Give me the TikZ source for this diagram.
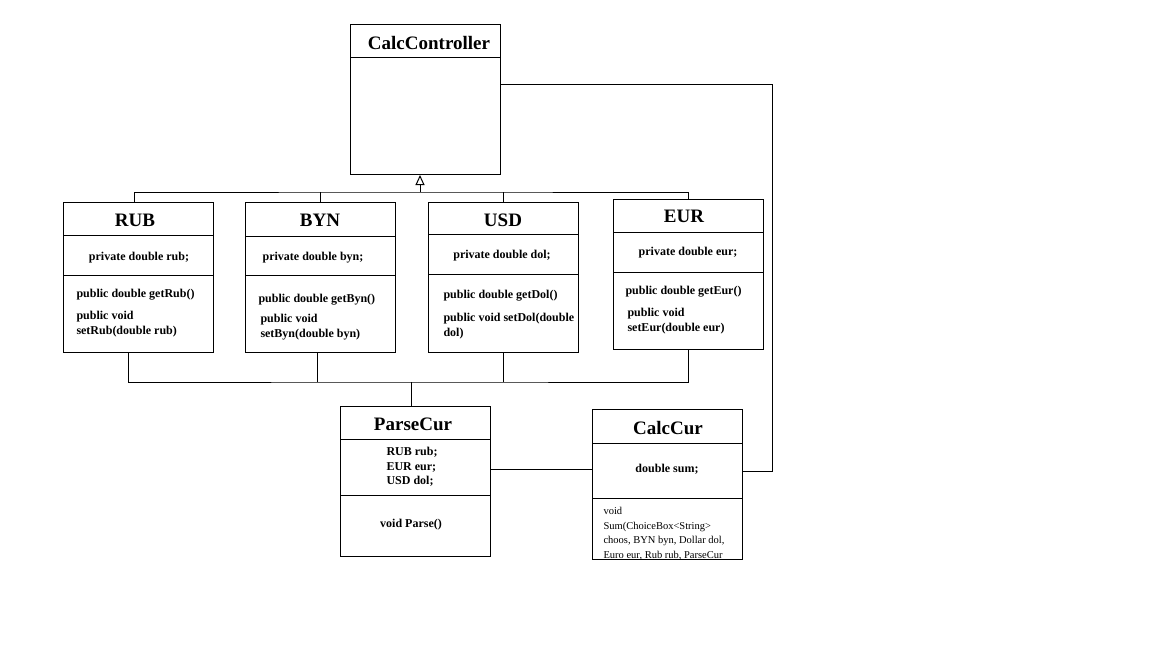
\documentclass[tikz,border=0pt]{standalone}
\usepackage{fontspec}
\setmainfont{Liberation Serif}
\usetikzlibrary{arrows.meta}

\tikzset{
  cls/.style={draw, line width=1pt, minimum width=150pt, minimum height=150pt,
    inner sep=0pt, anchor=north west},
  ttl/.style={font=\fontsize{19}{21}\selectfont\bfseries},
  memb/.style={font=\fontsize{12}{14.5}\selectfont\bfseries, inner sep=0pt},
  meth/.style={memb, anchor=west, align=left},
  plain/.style={font=\fontsize{10.5}{14.5}\selectfont, inner sep=0pt, anchor=west, align=left},
}

\begin{document}
\begin{tikzpicture}[x=1pt,y=-1pt,line width=1pt]
\useasboundingbox (0,0) rectangle (1152,648);
% class boxes
\node[cls] (ctrl) at (350,24) {};
\node[cls] (rub) at (63,202) {};
\node[cls] (byn) at (245,202) {};
\node[cls] (usd) at (428,202) {};
\node[cls] (eur) at (613,199) {};
\node[cls] (parse) at (340,406) {};
\node[cls] (calc) at (592,409) {};
% compartments
\draw (350,57) -- (500,57);
\draw (63,235) -- (213,235) (63,275) -- (213,275);
\draw (245,236) -- (395,236) (245,275) -- (395,275);
\draw (428,234) -- (578,234) (428,274) -- (578,274);
\draw (613,232) -- (763,232) (613,272) -- (763,272);
\draw (340,439) -- (490,439) (340,495) -- (490,495);
\draw (592,443) -- (742,443) (592,498) -- (742,498);
% titles
\node[ttl] (ctrlT) at (429,43) {CalcController};
\node[ttl] (rubT) at (135,220) {RUB};
\node[ttl] (bynT) at (320,220) {BYN};
\node[ttl] (usdT) at (503,220) {USD};
\node[ttl] (eurT) at (684,216) {EUR};
\node[ttl] (parseT) at (413,424) {ParseCur};
\node[ttl] (calcT) at (668,428) {CalcCur};
% fields
\node[memb] (rubF) at (139,258) {private double rub;};
\node[memb] (bynF) at (313,258) {private double byn;};
\node[memb] (usdF) at (502,256) {private double dol;};
\node[memb] (eurF) at (688,253) {private double eur;};
\node[memb, anchor=north west, align=left] (parseF) at (386,447) {RUB rub;\\EUR eur;\\USD dol;};
\node[memb] (calcF) at (667,469) {double sum;};
% methods
\node[meth] (rubM1) at (76,295) {public double getRub()};
\node[meth] (rubM2) at (76,324) {public void\\setRub(double rub)};
\node[meth] (bynM1) at (258,300) {public double getByn()};
\node[meth] (bynM2) at (260,327) {public void\\setByn(double byn)};
\node[meth] (usdM1) at (443,296) {public double getDol()};
\node[meth] (usdM2) at (443,326) {public void setDol(double\\dol)};
\node[meth] (eurM1) at (625,292) {public double getEur()};
\node[meth] (eurM2) at (627,321) {public void\\setEur(double eur)};
\node[memb] (parseM) at (411,525) {void Parse()};
\begin{scope}
\clip (592,498) rectangle (742,559);
\node[plain, anchor=north west] (calcM) at (603,507)
  {void\\Sum(ChoiceBox<String>\\choos, BYN byn, Dollar dol,\\Euro eur, Rub rub, ParseCur};
\end{scope}
% inheritance
\coordinate (bus) at (420,192);
\draw ([xshift=-4pt]rub.north) |- (bus) -| (eur.north);
\draw (byn.north) -- (byn.north |- bus);
\draw (usd.north) -- (usd.north |- bus);
\draw[-{Triangle[open,length=10pt,width=9pt]}] (bus) -- (bus |- ctrl.south);
% parser links
\coordinate (low) at (411,382);
\draw ([xshift=-10pt]rub.south) |- (low) -| (eur.south);
\draw ([xshift=-3pt]byn.south) -- ([xshift=-3pt]byn.south |- low);
\draw (usd.south) -- (usd.south |- low);
\draw (low) -- (low |- parse.north);
\coordinate (link) at (540,469);
\draw (parse.east |- link) -- (calc.west |- link);
\coordinate (corner) at (772,84);
\draw (calc.east |- 0,471) -| (corner) -- (ctrl.east |- corner);
\end{tikzpicture}
\end{document}
